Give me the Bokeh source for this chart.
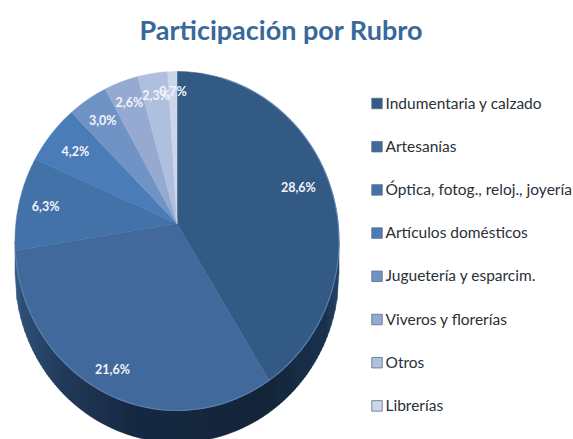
import numpy as np
from bokeh.plotting import figure
from bokeh.models import ColumnDataSource, Range1d
from bokeh.core.properties import value
from bokeh.embed import file_html
from bokeh.resources import INLINE

title = "Participación  por Rubro"
categories = ["Indumentaria y calzado", "Artesanías", "Óptica, fotog., reloj., joyería",
              "Artículos domésticos", "Juguetería y esparcim.", "Viveros y florerías", "Otros", "Librerías"]
shares = [28.6, 21.6, 6.3, 4.2, 3.0, 2.6, 2.3, 0.7]
share_labels = ["28,6%", "21,6%", "6,3%", "4,2%", "3,0%", "2,6%", "2,3%", "0,7%"]
colors = ["#335a85", "#41699b", "#4272a8", "#4a7cb8", "#7093c6", "#95a9d1", "#afc0de", "#ccd6ea"]
label_radius = [0.8, 0.88, 0.83, 0.8, 0.82, 0.84, 0.84, 0.86]

W, H = 573, 439
p = figure(width=W, height=H, output_backend="svg", toolbar_location=None,
           x_range=Range1d(0, W), y_range=Range1d(H, 0),
           min_border=0, outline_line_color=None, background_fill_color="white")
p.axis.visible = False
p.grid.visible = False

# projected disc: apex and perspective of the tilted pie
ax, ay = 176.5, 223.0
up, down, half_w = 152.0, 187.0, 162.0
c = (up - down) / (up + down)
a = up * (1 - c)
d = half_w * np.sqrt(1 - c * c)
depth = 32.0


def project(theta, r=1.0):
    u, v = r * np.sin(theta), -r * np.cos(theta)
    q = 1 + c * v
    return ax + d * u / q, ay + a * v / q


# side wall strips
ecy = ay + (down - up) / 2
ery = (down + up) / 2
stops_x = [14, 20, 60, 130, 267, 325, 339]
stops = np.array([[0x3b, 0x60, 0x8a], [0x2e, 0x50, 0x76], [0x23, 0x3c, 0x5b], [0x18, 0x2a, 0x43],
                  [0x15, 0x26, 0x3a], [0x1b, 0x33, 0x4f], [0x26, 0x47, 0x6a]], dtype=float)
sx0 = np.arange(ax - half_w, ax + half_w, 2.0)
sxs, sys, scol = [], [], []
for x0 in sx0:
    x1 = min(x0 + 2.0, ax + half_w)
    y0 = ecy + ery * np.sqrt(max(0, 1 - ((x0 - ax) / half_w) ** 2))
    y1 = ecy + ery * np.sqrt(max(0, 1 - ((x1 - ax) / half_w) ** 2))
    sxs.append([x0, x1, x1, x0])
    sys.append([y0, y1, y1 + depth, y0 + depth])
    rgb = [np.interp(x0, stops_x, stops[:, k]) for k in range(3)]
    scol.append("#%02x%02x%02x" % tuple(int(v) for v in rgb))
p.patches(sxs, sys, fill_color=scol, line_color=scol, line_width=0.5)

# slices
total = sum(shares)
edges = np.cumsum([0] + shares) / total * 2 * np.pi
xs, ys = [], []
for i in range(len(shares)):
    t = np.linspace(edges[i], edges[i + 1], 80)
    px, py = project(t)
    xs.append([ax] + list(px))
    ys.append([ay] + list(py))
p.patches(xs, ys, fill_color=colors, line_color=colors, line_width=0.5)

# light rim along the front-left of the face
t = np.linspace(edges[0] + 0.3, edges[2], 80)
rx_, ry_ = project(t)
p.line(rx_, ry_, line_color="#5f87b8", line_width=1.2, line_alpha=0.8)

# slice labels
mids = (edges[:-1] + edges[1:]) / 2
lx, ly = project(mids, np.array(label_radius))
p.text(lx, ly, text=share_labels, text_color="#f2f5fa", text_font=value("Lato"), text_font_style="bold",
       text_font_size="12.5px", text_align="center", text_baseline="middle")

# legend
ly0, lstep = 103.0, 43.2
rows = ly0 + lstep * np.arange(len(categories))
p.rect([376.5] * 8, rows, width=10.5, height=10.5, fill_color=colors, line_color="#5a6f88", line_width=0.8)
p.text([385] * 8, rows - 1, text=categories, text_color="#2a3038", text_font=value("Lato"),
       text_font_size="15.5px", text_align="left", text_baseline="middle")

# title
p.text([284], [29], text=[title], text_color="#39689b", text_font=value("Lato"), text_font_style="bold",
       text_font_size="27px", text_align="center", text_baseline="middle")

open("out.html", "w").write(file_html(p, INLINE))
